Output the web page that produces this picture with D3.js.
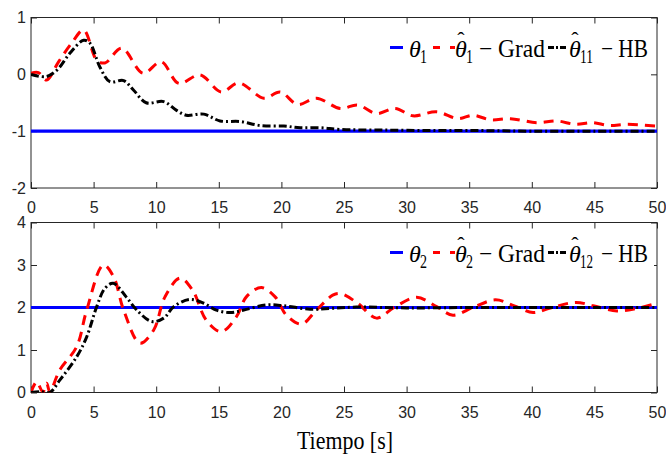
<!DOCTYPE html>
<html>
<head>
<meta charset="utf-8">
<script src="https://d3js.org/d3.v7.min.js"></script>
<style>
body { margin: 0; background: #fff; }
.tick text { font-family: "Liberation Sans Narrow", "Liberation Sans", sans-serif; font-size: 16px; fill: #262626; }
.tick line { stroke: #262626; }
.leg { font-family: "Liberation Serif", serif; fill: #000; }
</style>
</head>
<body>
<script>
// values
var xTicks = [0, 5, 10, 15, 20, 25, 30, 35, 40, 45, 50];
var yTicksTop = [-2, -1, 0, 1];
var yTicksBot = [0, 1, 2, 3, 4];
var theta1 = -1;
var theta2 = 2;

// theta_1 estimate, gradient
var tGrad1 = [0, 0.6, 1.25, 2.2, 3.25, 4.2, 5.25, 5.9, 7.25, 8.95, 10.4, 11.8, 13.5, 15.2, 16.6, 18.6, 19.9, 21.3, 22.8, 24.7, 26.1, 27.6, 29.1, 30.5, 32.4, 34.1, 35.3, 36.7, 38.3, 40.4, 42, 43.5, 44.8, 46.2, 47.6, 50];
var vGrad1 = [0.02, 0.03, -0.1, 0.22, 0.55, 0.78, 0.25, 0.2, 0.46, 0.02, 0.22, -0.16, -0.01, -0.31, -0.15, -0.42, -0.31, -0.53, -0.42, -0.6, -0.54, -0.69, -0.6, -0.73, -0.66, -0.78, -0.72, -0.8, -0.78, -0.85, -0.82, -0.88, -0.85, -0.9, -0.88, -0.91];
// theta_11 estimate, heavy ball
var tHB1 = [0, 1.2, 2.1, 3.1, 4.2, 4.7, 5.5, 6.3, 7.4, 8.2, 9.2, 10.6, 11.6, 12.4, 13.8, 15.1, 16.7, 18.3, 20.2, 21.5, 23.1, 24.7, 28, 32, 36, 40, 45, 50];
var vHB1 = [0, -0.04, 0.08, 0.37, 0.6, 0.55, 0.13, -0.13, -0.11, -0.28, -0.5, -0.48, -0.63, -0.72, -0.7, -0.82, -0.83, -0.9, -0.91, -0.94, -0.94, -0.97, -0.98, -0.99, -0.99, -1, -1, -1];
// theta_2 estimate, gradient
var tGrad2 = [0, 0.45, 0.95, 1.25, 1.5, 2.3, 3.65, 4.45, 5.78, 6.6, 7.4, 8.7, 9.8, 10.7, 11.9, 12.9, 14, 15.2, 16.4, 17.2, 18.4, 19.5, 20.4, 21.6, 22.8, 24.1, 24.7, 26.1, 27.6, 29, 30.8, 32.4, 33.7, 35.3, 37.1, 38.6, 40.1, 41.4, 43.5, 44.9, 46.8, 48.4, 50];
var vGrad2 = [0, 0.25, 0.01, 0.22, 0.02, 0.53, 1.08, 1.94, 3.0, 2.72, 1.94, 1.16, 1.47, 2.25, 2.69, 2.41, 1.7, 1.43, 1.78, 2.25, 2.47, 2.25, 1.82, 1.61, 1.94, 2.29, 2.33, 2.1, 1.75, 2.0, 2.24, 2.02, 1.82, 2.0, 2.18, 2.04, 1.88, 1.98, 2.12, 2.04, 1.92, 1.98, 2.1];
// theta_12 estimate, heavy ball
var tHB2 = [0, 0.8, 1.5, 2.3, 3.65, 4.45, 5.25, 5.9, 6.57, 7.6, 8.45, 9.64, 10.6, 11.4, 12.7, 13.8, 14.8, 15.9, 17, 18.8, 20.2, 22.3, 24, 26, 30, 35, 40, 45, 50];
var vHB2 = [0, 0.02, 0, 0.29, 0.84, 1.31, 2.02, 2.45, 2.57, 2.25, 1.94, 1.67, 1.75, 2.02, 2.19, 2.1, 1.94, 1.88, 1.94, 2.06, 2.04, 1.96, 1.98, 2.01, 1.99, 2.0, 2.0, 2.0, 2.0];

var W = 666, H = 459;
var left = 31, right = 657;

var svg = d3.select('body').append('svg')
  .attr('width', W)
  .attr('height', H);

var x = d3.scaleLinear().domain([0, 50]).range([left, right]);
// plain hyphen for negatives, like the original
var fmt = function(d) { return String(d); };

function panel(top, bottom, yDom, yTicks, ref, tG, vG, tH, vH, subA, subB, id) {
  var y = d3.scaleLinear().domain(yDom).range([bottom, top]);
  var g = svg.append('g');

  g.append('clipPath').attr('id', id)
    .append('rect').attr('x', left).attr('y', top)
    .attr('width', right - left).attr('height', bottom - top);

  // axes, ticks pointing inwards
  g.append('g').attr('transform', 'translate(0,' + bottom + ')')
    .call(d3.axisBottom(x).tickValues(xTicks).tickSize(-6).tickPadding(14).tickFormat(fmt))
    .call(function(a) { a.select('.domain').remove(); });
  g.append('g').attr('transform', 'translate(0,' + top + ')')
    .call(d3.axisTop(x).tickValues(xTicks).tickSize(-6).tickFormat(''))
    .call(function(a) { a.select('.domain').remove(); });
  g.append('g').attr('transform', 'translate(' + left + ',0)')
    .call(d3.axisLeft(y).tickValues(yTicks).tickSize(-6).tickPadding(5).tickFormat(fmt))
    .call(function(a) { a.select('.domain').remove(); });
  g.append('g').attr('transform', 'translate(' + right + ',0)')
    .call(d3.axisRight(y).tickValues(yTicks).tickSize(-6).tickFormat(''))
    .call(function(a) { a.select('.domain').remove(); });

  g.append('rect')
    .attr('x', left).attr('y', top)
    .attr('width', right - left).attr('height', bottom - top)
    .attr('fill', 'none').attr('stroke', '#262626').attr('stroke-width', 1);

  var line = d3.line()
    .x(function(d) { return x(d[0]); })
    .y(function(d) { return y(d[1]); })
    .curve(d3.curveCatmullRom.alpha(0.5));

  var curves = g.append('g').attr('clip-path', 'url(#' + id + ')');
  curves.append('path')
    .datum([[0, ref], [50, ref]])
    .attr('d', line)
    .attr('fill', 'none').attr('stroke', '#0000ff').attr('stroke-width', 3.2);
  curves.append('path')
    .datum(d3.zip(tG, vG))
    .attr('d', line)
    .attr('fill', 'none').attr('stroke', '#ff0000').attr('stroke-width', 3)
    .attr('stroke-dasharray', '10,7');
  curves.append('path')
    .datum(d3.zip(tH, vH))
    .attr('d', line)
    .attr('fill', 'none').attr('stroke', '#000').attr('stroke-width', 3)
    .attr('stroke-dasharray', '8,3,2,3');

  // legend
  var ly = top + 30;
  var lg = g.append('g');
  lg.append('rect').attr('x', 386).attr('y', top + 8).attr('width', 268).attr('height', 40).attr('fill', '#fff');
  lg.append('line').attr('x1', 390).attr('x2', 403).attr('y1', ly).attr('y2', ly)
    .attr('stroke', '#0000ff').attr('stroke-width', 3);
  lg.append('line').attr('x1', 433).attr('x2', 455).attr('y1', ly).attr('y2', ly)
    .attr('stroke', '#ff0000').attr('stroke-width', 3).attr('stroke-dasharray', '7,10');
  lg.append('line').attr('x1', 548).attr('x2', 567).attr('y1', ly).attr('y2', ly)
    .attr('stroke', '#000').attr('stroke-width', 3).attr('stroke-dasharray', '6,2,2,2');

  function theta(xp, sub, hat, subW) {
    lg.append('text').attr('class', 'leg').attr('x', xp).attr('y', ly + 9)
      .attr('font-size', 24).attr('font-style', 'italic').text('θ');
    lg.append('text').attr('class', 'leg').attr('x', xp + 11).attr('y', ly + 15)
      .attr('font-size', 18).attr('textLength', subW).attr('lengthAdjust', 'spacingAndGlyphs').text(sub);
    if (hat) {
      lg.append('text').attr('class', 'leg').attr('x', xp + 6).attr('y', ly - 1)
        .attr('font-size', 22).attr('text-anchor', 'middle').text('ˆ');
    }
  }
  theta(409, String(subA), false, 7);
  theta(455, String(subA), true, 7);
  lg.append('text').attr('class', 'leg').attr('x', 479).attr('y', ly + 9)
    .attr('font-size', 25).attr('textLength', 66).attr('lengthAdjust', 'spacingAndGlyphs').text('− Grad');
  theta(569, String(subB), true, 13);
  lg.append('text').attr('class', 'leg').attr('x', 601).attr('y', ly + 9)
    .attr('font-size', 25).attr('textLength', 47).attr('lengthAdjust', 'spacingAndGlyphs').text('− HB');
}

panel(17.5, 188, [-2, 1], yTicksTop, theta1, tGrad1, vGrad1, tHB1, vHB1, 1, 11, 'c1');
panel(222.5, 392.5, [0, 4], yTicksBot, theta2, tGrad2, vGrad2, tHB2, vHB2, 2, 12, 'c2');

svg.append('text')
  .attr('x', 297).attr('y', 449)
  .attr('font-family', 'Liberation Serif, serif').attr('font-size', 26)
  .attr('textLength', 96).attr('lengthAdjust', 'spacingAndGlyphs')
  .text('Tiempo [s]');
</script>
</body>
</html>
